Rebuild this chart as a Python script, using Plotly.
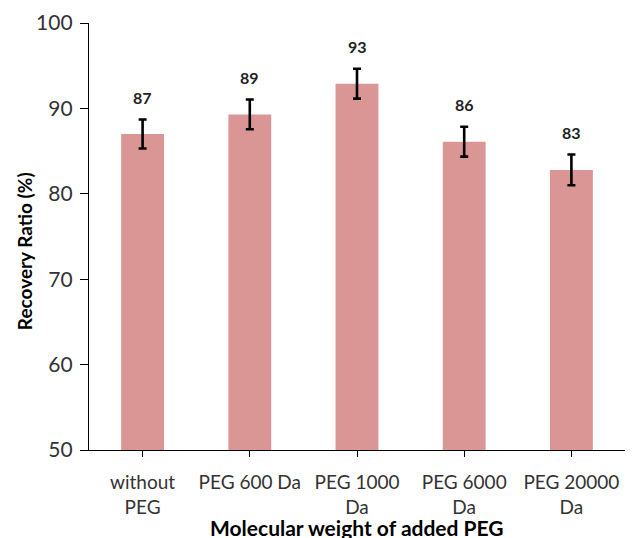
import plotly.graph_objects as go

categories = ["without<br>PEG", "PEG 600 Da", "PEG 1000<br>Da", "PEG 6000<br>Da", "PEG 20000<br>Da"]
recovery = [87.0, 89.3, 92.9, 86.1, 82.8]
errors = [1.7, 1.75, 1.75, 1.75, 1.8]
labels = ["87", "89", "93", "86", "83"]
x_title = "Molecular weight of added PEG"
y_title = "Recovery Ratio (%)"

FONT = "Lato"

fig = go.Figure()
fig.add_trace(go.Bar(
    x=categories, y=recovery,
    width=0.40,
    marker=dict(color="#D99694", line=dict(width=0)),
    error_y=dict(type="data", array=errors, visible=True, color="black", thickness=2.6, width=4),
))

for c, v, e, t in zip(categories, recovery, errors, labels):
    fig.add_annotation(x=c, y=v + e, text="<b>" + t + "</b>", showarrow=False,
                       yshift=22, font=dict(family=FONT, size=16, color="#222"))

fig.add_annotation(xref="paper", yref="paper", x=-0.121, y=0.466, text="<b>" + y_title + "</b>",
                   textangle=-90, showarrow=False, xanchor="center", yanchor="middle",
                   font=dict(family=FONT, size=19, color="black"))
fig.add_annotation(xref="paper", yref="paper", x=0.5, y=-0.181, text="<b>" + x_title + "</b>",
                   showarrow=False, xanchor="center", yanchor="middle",
                   font=dict(family=FONT, size=21, color="black"))

fig.update_layout(
    width=617, height=530,
    margin=dict(l=81, r=0, t=15, b=88),
    plot_bgcolor="white", paper_bgcolor="white",
    showlegend=False,
    font=dict(family=FONT, size=16, color="#333"),
)
fig.update_xaxes(
    automargin=False,
    showline=True, linecolor="black", linewidth=1.3,
    ticks="outside", ticklen=6, tickcolor="black",
    ticklabelstandoff=9,
    tickfont=dict(family=FONT, size=19, color="#333"),
    showgrid=False,
)
fig.update_yaxes(
    automargin=False,
    range=[50, 100], dtick=10,
    showline=True, linecolor="black", linewidth=1.3,
    ticks="outside", ticklen=8, tickcolor="black",
    ticklabelstandoff=3,
    tickfont=dict(family=FONT, size=21, color="#333"),
    showgrid=False, zeroline=False,
)

fig.write_html("out.html")
